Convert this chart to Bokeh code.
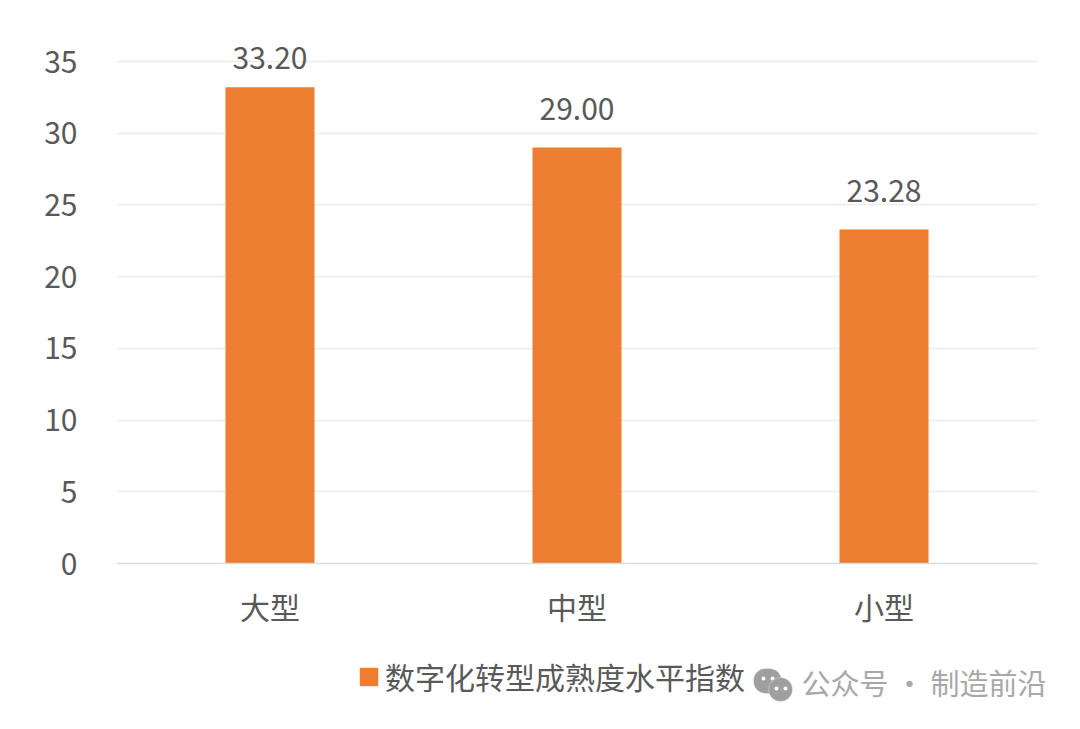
from bokeh.plotting import figure
from bokeh.layouts import column
from bokeh.models import (FixedTicker, Range1d, FactorRange, ColumnDataSource, Legend, LegendItem,
                          Label, BoxAnnotation)
from bokeh.embed import file_html
from bokeh.resources import INLINE
from bokeh.core.properties import value

categories = ["大型", "中型", "小型"]
values = [33.20, 29.00, 23.28]
labels = ["33.20", "29.00", "23.28"]
label_offsets = [-18, -28, -28]
y_ticks = [0, 5, 10, 15, 20, 25, 30, 35]
legend_label = "数字化转型成熟度水平指数"
watermark = "公众号 · 制造前沿"

FONT = "Noto Sans CJK SC"
TXT = "#595959"
BAR = "#ed7d31"
GREY = "#a8a8a8"

p = figure(width=1072, height=633, output_backend="svg", toolbar_location=None,
           x_range=FactorRange(factors=categories, range_padding=0),
           y_range=Range1d(0, 38.556),
           min_border_left=116, min_border_right=35, min_border_top=10, min_border_bottom=70)
p.x_range.factor_padding = 0
p.outline_line_color = None
p.background_fill_color = "white"
p.border_fill_color = "white"

src = ColumnDataSource(dict(cat=categories, val=values, lab=labels, off=label_offsets))
p.vbar(x="cat", top="val", width=0.29, source=src, fill_color=BAR, line_color=None)
p.text(x="cat", y="val", text="lab", source=src, text_font=value(FONT), text_font_size="30px",
       text_color=TXT, text_align="center", text_baseline="bottom", y_offset="off")

p.xgrid.visible = False
p.ygrid.ticker = FixedTicker(ticks=y_ticks)
p.ygrid.grid_line_color = "#ececec"
p.ygrid.grid_line_width = 1.5

p.yaxis.ticker = FixedTicker(ticks=y_ticks)
p.yaxis.axis_line_color = None
p.yaxis.major_tick_line_color = None
p.yaxis.minor_tick_line_color = None
p.yaxis.major_label_standoff = 33
p.yaxis.major_label_text_font = FONT
p.yaxis.major_label_text_font_size = "30px"
p.yaxis.major_label_text_color = TXT

p.xaxis.axis_line_color = "#dcdcdc"
p.xaxis.axis_line_width = 1.5
p.xaxis.major_tick_line_color = None
p.xaxis.minor_tick_line_color = None
p.xaxis.major_label_standoff = 14
p.xaxis.major_label_text_font = FONT
p.xaxis.major_label_text_font_size = "30px"
p.xaxis.major_label_text_color = TXT

# bottom strip: legend and watermark
q = figure(width=1072, height=88, output_backend="svg", toolbar_location=None,
           x_range=Range1d(0, 1072), y_range=Range1d(0, 88),
           min_border_left=0, min_border_right=0, min_border_top=0, min_border_bottom=0)
q.xaxis.visible = False
q.yaxis.visible = False
q.grid.visible = False
q.outline_line_color = None
key = q.vbar(x=[-500], top=[-500], width=1, fill_color=BAR, line_color=None)
legend = Legend(items=[LegendItem(label=legend_label, renderers=[key])],
                location=(357, 23), orientation="horizontal",
                background_fill_alpha=0, border_line_color=None,
                padding=0, margin=0, glyph_width=23, glyph_height=23, label_standoff=5,
                label_text_font=FONT, label_text_font_size="30px", label_text_color=TXT,
                label_height=23)
q.add_layout(legend, "center")
q.add_layout(Label(x=801, y=19, x_units="screen", y_units="screen", text=watermark,
                   text_font=FONT, text_font_size="29px", text_color=GREY,
                   text_baseline="bottom", text_align="left"))

def bubble(l, r, t, b, color, line="white"):
    q.add_layout(BoxAnnotation(left=l, right=r, top=t, bottom=b, left_units="screen", right_units="screen",
                               top_units="screen", bottom_units="screen", fill_color=color, fill_alpha=1,
                               line_color=line, line_width=1,
                               border_radius=min(r - l, t - b) // 2))

bubble(753, 781, 53, 28, "#9f9f9f")
bubble(761, 765, 45, 41, "white", None)
bubble(770, 774, 45, 41, "white", None)
bubble(768, 792, 44, 20, "#9f9f9f")
bubble(774, 778, 35, 31, "white", None)
bubble(783, 787, 35, 31, "white", None)

out = open("out.html", "w")
out.write(file_html(column(p, column(q), spacing=0), INLINE))
out.close()
